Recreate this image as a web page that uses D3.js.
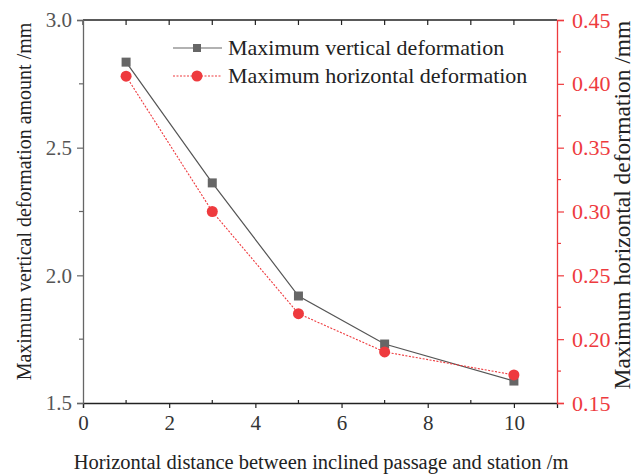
<!DOCTYPE html>
<html>
<head>
<meta charset="utf-8">
<script src="https://cdn.jsdelivr.net/npm/d3@7"></script>
<style>
  body { margin: 0; background: #fff; }
  svg text { font-family: "Liberation Serif", "DejaVu Serif", serif; }
</style>
</head>
<body>
<svg id="chart" width="637" height="475"></svg>
<script>
// Distance between inclined passage and station (m)
const distances = [1, 3, 5, 7, 10];
// Maximum vertical deformation (mm), left axis
const verticalDeformation = [2.835, 2.362, 1.919, 1.731, 1.586];
// Maximum horizontal deformation (mm), right axis
const horizontalDeformation = [0.406, 0.300, 0.220, 0.190, 0.172];

const xTicks = [0, 2, 4, 6, 8, 10];
const yLeftTicks = [1.5, 2.0, 2.5, 3.0];
const yRightTicks = [0.15, 0.20, 0.25, 0.30, 0.35, 0.40, 0.45];

const seriesNames = ["Maximum vertical deformation", "Maximum horizontal deformation"];

const grey = "#666666";
const red = "#ee3a3e";
const serif = "'Liberation Serif', 'DejaVu Serif', serif";

const svg = d3.select("#chart");
const m = { left: 83, right: 557, top: 20, bottom: 403 };

const x = d3.scaleLinear().domain([0, 11]).range([m.left, m.right]);
const yL = d3.scaleLinear().domain([1.5, 3.0]).range([m.bottom, m.top]);
const yR = d3.scaleLinear().domain([0.15, 0.45]).range([m.bottom, m.top]);

// Top frame line with inward ticks
svg.append("line").attr("x1", m.left).attr("x2", m.right).attr("y1", m.top).attr("y2", m.top)
  .attr("stroke", "#222").attr("stroke-width", 1.3);
svg.append("g").selectAll("line").data(d3.range(0, 11)).join("line")
  .attr("x1", d => x(d)).attr("x2", d => x(d)).attr("y1", m.top).attr("y2", m.top + 5)
  .attr("stroke", "#222").attr("stroke-width", 1.2);

// Bottom axis
const gx = svg.append("g").attr("transform", `translate(0,${m.bottom})`);
gx.call(d3.axisBottom(x).tickValues(xTicks).tickSize(5).tickPadding(7).tickFormat(d3.format("d")));
gx.attr("font-family", serif);
gx.select(".domain").attr("stroke", "#222").attr("stroke-width", 1.3);
gx.selectAll(".tick line").attr("stroke", "#222").attr("stroke-width", 1.2);
gx.selectAll(".tick text").attr("fill", "#333").attr("font-size", 21);
gx.selectAll(".minor").data([1, 3, 5, 7, 9]).join("line").attr("class", "minor")
  .attr("x1", d => x(d)).attr("x2", d => x(d)).attr("y1", 0).attr("y2", -3)
  .attr("stroke", "#222").attr("stroke-width", 1.2);

// Left axis
const gl = svg.append("g").attr("transform", `translate(${m.left},0)`);
gl.call(d3.axisLeft(yL).tickValues(yLeftTicks).tickSize(6).tickPadding(5).tickFormat(d3.format(".1f")));
gl.attr("font-family", serif);
gl.select(".domain").attr("stroke", grey).attr("stroke-width", 1.3);
gl.selectAll(".tick line").attr("stroke", grey).attr("stroke-width", 1.2);
gl.selectAll(".tick text").attr("fill", "#555").attr("font-size", 21);
gl.selectAll(".minor").data([1.75, 2.25, 2.75]).join("line").attr("class", "minor")
  .attr("x1", 0).attr("x2", -4).attr("y1", d => yL(d)).attr("y2", d => yL(d))
  .attr("stroke", grey).attr("stroke-width", 1.2);

// Right axis
const gr = svg.append("g").attr("transform", `translate(${m.right},0)`);
gr.call(d3.axisRight(yR).tickValues(yRightTicks).tickSize(7).tickPadding(8).tickFormat(d3.format(".2f")));
gr.attr("font-family", serif);
gr.select(".domain").attr("stroke", red).attr("stroke-width", 1.3);
gr.selectAll(".tick line").attr("stroke", red).attr("stroke-width", 1.2);
gr.selectAll(".tick text").attr("fill", red).attr("font-size", 22);
gr.selectAll(".minor").data([0.175, 0.225, 0.275, 0.325, 0.375, 0.425]).join("line").attr("class", "minor")
  .attr("x1", 0).attr("x2", 4).attr("y1", d => yR(d)).attr("y2", d => yR(d))
  .attr("stroke", red).attr("stroke-width", 1.2);

// Axis titles
svg.append("text").attr("x", 321).attr("y", 469)
  .attr("text-anchor", "middle").attr("fill", "#222").attr("font-size", 20.5)
  .text("Horizontal distance between inclined passage and station /m");
svg.append("text").attr("transform", `translate(31,${(m.top + m.bottom) / 2 - 10}) rotate(-90)`)
  .attr("text-anchor", "middle").attr("fill", "#222").attr("font-size", 20)
  .text("Maximum vertical deformation amount /mm");
svg.append("text").attr("transform", `translate(630,205) rotate(-90)`)
  .attr("text-anchor", "middle").attr("fill", "#222").attr("font-size", 23.5)
  .text("Maximum horizontal deformation /mm");

// Series lines
const vData = distances.map((d, i) => [d, verticalDeformation[i]]);
const hData = distances.map((d, i) => [d, horizontalDeformation[i]]);

svg.append("path").datum(vData)
  .attr("d", d3.line().x(d => x(d[0])).y(d => yL(d[1])))
  .attr("fill", "none").attr("stroke", "#555").attr("stroke-width", 1.2);
svg.append("path").datum(hData)
  .attr("d", d3.line().x(d => x(d[0])).y(d => yR(d[1])))
  .attr("fill", "none").attr("stroke", red).attr("stroke-width", 1.1).attr("stroke-dasharray", "2,1.5");

svg.append("g").selectAll("rect").data(vData).join("rect")
  .attr("x", d => x(d[0]) - 4.5).attr("y", d => yL(d[1]) - 4.5)
  .attr("width", 9).attr("height", 9).attr("fill", grey);
svg.append("g").selectAll("circle").data(hData).join("circle")
  .attr("cx", d => x(d[0])).attr("cy", d => yR(d[1])).attr("r", 5.5).attr("fill", red);

// Legend
const lg = svg.append("g");
lg.append("line").attr("x1", 173).attr("x2", 222).attr("y1", 48).attr("y2", 48)
  .attr("stroke", "#999").attr("stroke-width", 1.5);
lg.append("rect").attr("x", 197 - 4).attr("y", 48 - 4).attr("width", 8).attr("height", 8).attr("fill", grey);
lg.append("line").attr("x1", 173).attr("x2", 222).attr("y1", 76).attr("y2", 76)
  .attr("stroke", red).attr("stroke-width", 1.1).attr("stroke-dasharray", "2,1.5");
lg.append("circle").attr("cx", 197).attr("cy", 76).attr("r", 5.5).attr("fill", red);
lg.append("text").attr("x", 228).attr("y", 55).attr("fill", "#222").attr("font-size", 22).text(seriesNames[0]);
lg.append("text").attr("x", 228).attr("y", 83).attr("fill", "#222").attr("font-size", 22).text(seriesNames[1]);
</script>
</body>
</html>
